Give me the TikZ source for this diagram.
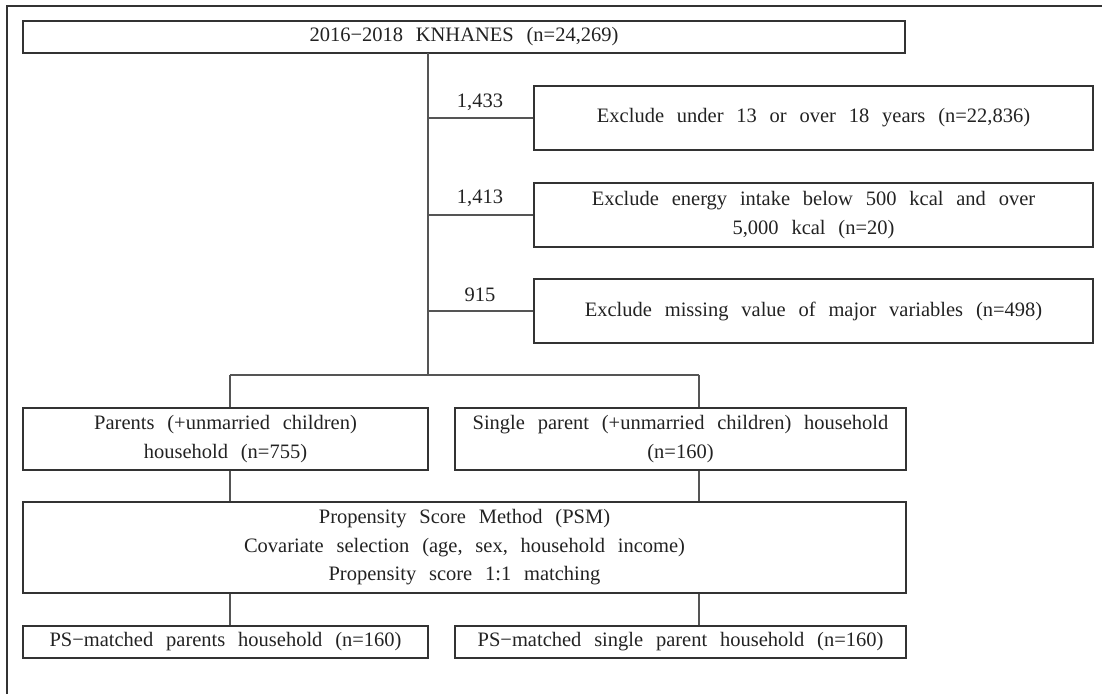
\documentclass[tikz,border=0pt]{standalone}
\usepackage{fontspec}
\setmainfont{Liberation Serif}[WordSpace=2.5]
\usepackage{tikz}
\usetikzlibrary{calc}
\newcommand{\unitpx}{1pt}
\definecolor{boxline}{HTML}{333333}
\definecolor{linkline}{HTML}{555555}
\definecolor{inkgray}{HTML}{222222}
\tikzset{
	box/.style={draw=boxline, line width=1.2pt, inner sep=0pt, align=center,
		text=inkgray, font=\fontsize{20.5}{28.5}\selectfont},
	link/.style={draw=linkline, line width=1.2pt},
	count/.style={text=inkgray, font=\fontsize{20.5}{22}\selectfont}
}

\begin{document}
\begin{tikzpicture}[x=\unitpx,y=-\unitpx]
	\useasboundingbox (0,0) rectangle (1102,694);
	% frame
	\draw[boxline, line width=1.5pt] (7,694) -- (7,6) -- (1102,6);

	\node[box, minimum width=882, minimum height=32] (total) at (464,37) {2016−2018 KNHANES (n=24,269)};
	\node[box, minimum width=559, minimum height=64] (age) at (813.5,118) {Exclude under 13 or over 18 years (n=22,836)};
	\node[box, minimum width=559, minimum height=64] (energy) at (813.5,215) {Exclude energy intake below 500 kcal and over\\5,000 kcal (n=20)};
	\node[box, minimum width=559, minimum height=64] (missing) at (813.5,311) {Exclude missing value of major variables (n=498)};
	\node[box, minimum width=405, minimum height=62] (parents) at (225.5,439) {Parents (+unmarried children)\\household (n=755)};
	\node[box, minimum width=451, minimum height=62] (single) at (680.5,439) {Single parent (+unmarried children) household\\(n=160)};
	\node[box, minimum width=883, minimum height=91] (psm) at (464.5,547.5) {Propensity Score Method (PSM)\\Covariate selection (age, sex, household income)\\Propensity score 1:1 matching};
	\node[box, minimum width=405, minimum height=32] (mparents) at (225.5,642) {PS−matched parents household (n=160)};
	\node[box, minimum width=451, minimum height=32] (msingle) at (680.5,642) {PS−matched single parent household (n=160)};

	\coordinate (top) at (428,53);
	\coordinate (split) at (428,375);
	\coordinate (left) at (230,375);
	\coordinate (right) at (699,375);

	\draw[link] (top) -- (split);
	\draw[link] (left) -- (right);
	\draw[link] (left) -- (left |- parents.north);
	\draw[link] (right) -- (right |- single.north);
	\draw[link] (left |- parents.south) -- (left |- psm.north);
	\draw[link] (right |- single.south) -- (right |- psm.north);
	\draw[link] (left |- psm.south) -- (left |- mparents.north);
	\draw[link] (right |- psm.south) -- (right |- msingle.north);

	\draw[link] (top |- age.west) -- (age.west);
	\draw[link] (top |- energy.west) -- (energy.west);
	\draw[link] (top |- missing.west) -- (missing.west);
	\node[count] (n1) at (480,102) {1,433};
	\node[count] (n2) at (480,198) {1,413};
	\node[count] (n3) at (480,295) {915};
\end{tikzpicture}
\end{document}
